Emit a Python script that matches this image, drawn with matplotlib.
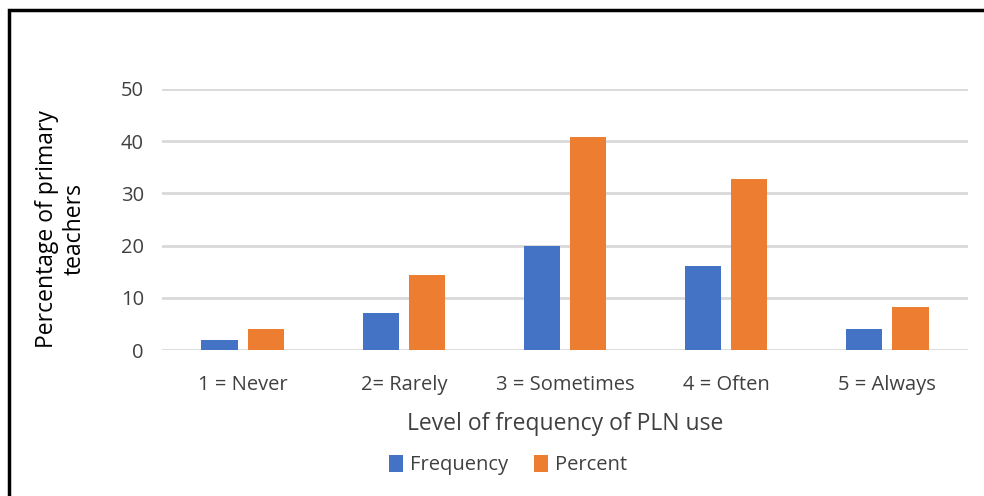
import matplotlib.pyplot as plt
import numpy as np
from matplotlib.patches import Rectangle

plt.rcParams['font.family'] = ['Open Sans', 'DejaVu Sans']

categories = ['1 = Never', '2= Rarely', '3 = Sometimes', '4 = Often', '5 = Always']
frequency = [2, 7, 20, 16, 4]
percent = [4.1, 14.3, 40.8, 32.7, 8.2]

blue = '#4472C4'
orange = '#ED7D31'
text_col = '#404040'

fig = plt.figure(figsize=(9.84, 4.96), dpi=100)
ax = fig.add_axes([162 / 984, 1 - 350 / 496, (968 - 162) / 984, (350 - 89) / 496])

x = np.arange(len(categories))
w = 0.224
off = (w + 0.062) / 2
ax.bar(x - off, frequency, w, color=blue, label='Frequency', zorder=3)
ax.bar(x + off, percent, w, color=orange, label='Percent', zorder=3)

ax.set_xlim(-0.5, 4.5)
ax.set_ylim(0, 50)
ax.set_yticks(range(0, 51, 10))
ax.set_xticks(x)
ax.set_xticklabels(categories)
ax.yaxis.grid(True, color='#D9D9D9', linewidth=2, zorder=0)
for s in ax.spines.values():
    s.set_visible(False)
ax.tick_params(length=0, labelsize=14.5, labelcolor=text_col)
ax.tick_params(axis='y', pad=13)
ax.tick_params(axis='x', pad=18)

ax.set_xlabel('Level of frequency of PLN use', fontsize=16.5, color=text_col, labelpad=12)
fig.text(61 / 984, 1 - 229 / 496, 'Percentage of primary\nteachers', rotation=90,
         ha='center', va='center', fontsize=16.5, color='black', linespacing=1.2)

ax.legend(loc='center', bbox_to_anchor=((508 - 162) / (968 - 162), (350 - 465) / (350 - 89)),
          ncol=2, frameon=False, fontsize=14.5, handlelength=0.7, handleheight=0.9,
          columnspacing=1.3, handletextpad=0.35, labelcolor=text_col)

# outer border (only top and left visible in the crop)
fig.patches.append(Rectangle((9 / 984, -0.1), 1.2, (1 - 10 / 496) + 0.1,
                             transform=fig.transFigure, fill=False,
                             edgecolor='black', linewidth=2.5))

fig.savefig('out.png', dpi=100)
